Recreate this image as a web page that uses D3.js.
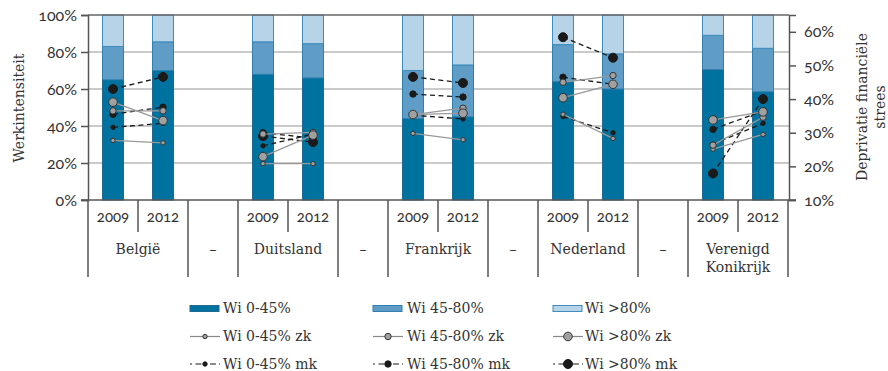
<!DOCTYPE html>
<html>
<head>
<meta charset="utf-8">
<script src="https://cdn.jsdelivr.net/npm/d3@7/dist/d3.min.js"></script>
<style>
  html, body { margin: 0; padding: 0; background: #fff; }
  svg { display: block; }
  .serif { font-family: "DejaVu Serif", serif; fill: #333; }
  .num { font-family: "Lato", "Noto Sans", sans-serif; font-variant-numeric: oldstyle-nums; font-feature-settings: "onum"; fill: #333; }
</style>
</head>
<body>
<svg id="chart" width="888" height="371"></svg>
<script>
// Countries and survey years
const countries = ["België", "Duitsland", "Frankrijk", "Nederland", "Verenigd Konikrijk"];
const years = ["2009", "2012"];

// Share of households per work-intensity class (left axis, %), order: country x year
const wi045  = [65, 70,   68, 66,   44, 45,   64, 60,   70.5, 58.5];
const wi4580 = [18, 15.5, 17.5, 18.5, 26, 28, 20, 19,   18.5, 23.5];
const wi80   = [17, 14.5, 14.5, 15.5, 30, 27, 16, 21,   11, 18];

// Financial stress deprivation (right axis, %), zk = zonder kinderen, mk = met kinderen
const zk045  = [27.7, 27.0, 20.8, 20.8, 29.8, 27.9, 35.5, 28.3, 25.1, 29.5];
const zk4580 = [36.5, 36.5, 29.6, 30.1, 35.4, 37.3, 45.0, 47.0, 26.3, 34.6];
const zk80   = [39.1, 33.6, 22.9, 29.3, 35.4, 35.8, 40.4, 44.4, 33.8, 36.2];
const mk045  = [31.6, 32.8, 26.1, 29.6, 35.2, 34.1, 34.8, 30.0, 26.6, 32.8];
const mk4580 = [35.5, 37.6, 30.0, 28.4, 41.5, 40.6, 46.5, 44.4, 31.0, 36.5];
const mk80   = [43.0, 46.6, 29.0, 27.2, 46.6, 44.8, 58.4, 52.3, 17.9, 40.0];

const leftTicks = [0, 20, 40, 60, 80, 100];
const rightTicks = [10, 20, 30, 40, 50, 60];

const svg = d3.select("#chart");
const M = { left: 88, right: 788, top: 15, bottom: 200 };

// Category slots: two years per country with a spacer slot in between
const slots = [];
countries.forEach((c, i) => {
  years.forEach(y => slots.push({ key: c + "|" + y, country: c, year: y, gap: false }));
  if (i < countries.length - 1) slots.push({ key: "gap" + i, gap: true });
});

const x = d3.scaleBand().domain(slots.map(s => s.key)).range([M.left, M.right])
  .paddingInner(0.58).paddingOuter(0.29);
const step = x.step();
const yL = d3.scaleLinear().domain([0, 100]).range([M.bottom, M.top]);
const yR = d3.scaleLinear().domain([10, 65]).range([M.bottom, M.top]);

const cells = [];
countries.forEach((c, i) => years.forEach((y, j) => cells.push({ country: c, year: y, idx: i * 2 + j })));
const cx = d => x(d.country + "|" + d.year) + x.bandwidth() / 2;

// Gridlines
const g = svg.append("g");
g.selectAll("line.grid").data(leftTicks.filter(t => t > 0 && t < 100)).join("line")
  .attr("x1", M.left).attr("x2", M.right + 1)
  .attr("y1", d => yL(d)).attr("y2", d => yL(d))
  .attr("stroke", "#b8b8b8").attr("stroke-width", 1.5);

// Stacked bars
const barColors = [
  { fill: "#00729f", stroke: "#1f6a92", data: wi045 },
  { fill: "#5f9dc6", stroke: "#2f7fb0", data: wi4580 },
  { fill: "#b7d3e7", stroke: "#3f8cbf", data: wi80 }
];
cells.forEach(d => {
  let base = 0;
  barColors.forEach(s => {
    const v = s.data[d.idx];
    g.append("rect")
      .attr("x", x(d.country + "|" + d.year))
      .attr("width", x.bandwidth())
      .attr("y", yL(base + v))
      .attr("height", yL(base) - yL(base + v))
      .attr("fill", s.fill).attr("stroke", s.stroke).attr("stroke-width", 1);
    base += v;
  });
});

// Axes frame
const axisColor = "#555";
g.append("line").attr("x1", M.left).attr("x2", M.right + 1).attr("y1", M.top).attr("y2", M.top)
  .attr("stroke", "#666").attr("stroke-width", 1.5);

const leftAxis = d3.axisLeft(yL).tickValues(leftTicks).tickSize(7).tickFormat(d => d + "%");
const gl = svg.append("g").attr("transform", `translate(${M.left},0)`).call(leftAxis);
gl.select(".domain").attr("stroke", axisColor).attr("stroke-width", 1.5);
gl.selectAll(".tick line").attr("stroke", axisColor).attr("stroke-width", 1.5);
gl.selectAll(".tick text").attr("class", "num").attr("font-size", 16).attr("x", -11).attr("dy", "0.32em");

const rightAxis = d3.axisRight(yR).tickValues(rightTicks).tickSize(7).tickFormat(d => d + "%");
const gr = svg.append("g").attr("transform", `translate(${M.right + 1},0)`).call(rightAxis);
gr.select(".domain").attr("stroke", axisColor).attr("stroke-width", 1.5);
gr.selectAll(".tick line").attr("stroke", axisColor).attr("stroke-width", 1.5);
gr.selectAll(".tick text").attr("class", "num").attr("font-size", 16).attr("x", 15).attr("dy", "0.32em");
svg.selectAll(".tick text").attr("fill", "#333");

// Bottom axis line
svg.append("line").attr("x1", M.left - 7).attr("x2", M.right + 8).attr("y1", M.bottom).attr("y2", M.bottom)
  .attr("stroke", axisColor).attr("stroke-width", 1.5);

// Hierarchical category axis
const ax = svg.append("g");
const boundaries = [];
slots.forEach((s, i) => { boundaries.push({ x: M.left + i * step, full: s.gap || s.year === "2009" || (i > 0 && slots[i - 1].gap) }); });
boundaries.push({ x: M.right, full: true });
boundaries.forEach(b => {
  ax.append("line").attr("x1", b.x).attr("x2", b.x)
    .attr("y1", M.bottom).attr("y2", b.full ? 277 : 232)
    .attr("stroke", axisColor).attr("stroke-width", 1.5);
});
cells.forEach(d => {
  ax.append("text").attr("class", "num").attr("font-size", 15)
    .attr("x", cx(d)).attr("y", 217).attr("dy", "0.35em").attr("text-anchor", "middle").text(d.year);
});
countries.forEach(c => {
  const mid = x(c + "|2009") + x.bandwidth() / 2 + step / 2;
  const words = c === "Verenigd Konikrijk" ? ["Verenigd", "Konikrijk"] : [c];
  words.forEach((w, k) => ax.append("text").attr("class", "serif").attr("font-size", 14)
    .attr("x", mid).attr("y", 249 + k * 18).attr("dy", "0.35em").attr("text-anchor", "middle").text(w));
});
slots.filter(s => s.gap).forEach(s => {
  ax.append("text").attr("class", "serif").attr("font-size", 14)
    .attr("x", x(s.key) + x.bandwidth() / 2).attr("y", 249).attr("dy", "0.35em").attr("text-anchor", "middle").text("–");
});

// Axis titles
svg.append("text").attr("class", "serif").attr("font-size", 14).attr("text-anchor", "middle")
  .attr("transform", "translate(19,108) rotate(-90)").attr("dy", "0.35em").text("Werkintensiteit");
svg.append("text").attr("class", "serif").attr("font-size", 14).attr("text-anchor", "middle")
  .attr("transform", "translate(862,107) rotate(-90)").attr("dy", "0.35em").text("Deprivatie financiële");
svg.append("text").attr("class", "serif").attr("font-size", 14).attr("text-anchor", "middle")
  .attr("transform", "translate(880,107) rotate(-90)").attr("dy", "0.35em").text("strees");

// Line series (with/without children)
const series = [
  { name: "Wi 0-45% mk",  data: mk045,  r: 2.2, fill: "#1a1a1a", dashed: true },
  { name: "Wi 45-80% mk", data: mk4580, r: 3.2, fill: "#1a1a1a", dashed: true },
  { name: "Wi >80% mk",   data: mk80,   r: 4.5, fill: "#1a1a1a", dashed: true },
  { name: "Wi 0-45% zk",  data: zk045,  r: 2.2, fill: "#a0a0a0", dashed: false },
  { name: "Wi 45-80% zk", data: zk4580, r: 3.2, fill: "#a0a0a0", dashed: false },
  { name: "Wi >80% zk",   data: zk80,   r: 4.3, fill: "#a0a0a0", dashed: false }
];
const ls = svg.append("g");
series.forEach(s => {
  countries.forEach((c, i) => {
    const pts = [0, 1].map(j => ({ country: c, year: years[j], v: s.data[i * 2 + j] }));
    ls.append("path")
      .attr("d", d3.line().x(cx).y(d => yR(d.v))(pts))
      .attr("fill", "none")
      .attr("stroke", s.dashed ? "#1a1a1a" : "#999")
      .attr("stroke-width", 1.3)
      .attr("stroke-dasharray", s.dashed ? "5,3.5" : null);
    pts.forEach(p => ls.append("circle")
      .attr("cx", cx(p)).attr("cy", yR(p.v)).attr("r", s.r)
      .attr("fill", s.fill).attr("stroke", s.dashed ? "#1a1a1a" : "#333").attr("stroke-width", 1));
  });
});

// Legend
const legCols = [{ sx: 190, tx: 223 }, { sx: 373, tx: 407 }, { sx: 553, tx: 585 }];
const legRows = [308.5, 336.5, 364];
const lg = svg.append("g");
const barNames = ["Wi 0-45%", "Wi 45-80%", "Wi >80%"];
barColors.forEach((b, i) => {
  const c = legCols[i];
  lg.append("rect").attr("x", c.sx).attr("y", legRows[0] - 3).attr("width", 29).attr("height", 6)
    .attr("fill", b.fill).attr("stroke", b.stroke).attr("stroke-width", 1);
  lg.append("text").attr("class", "serif").attr("font-size", 14).attr("x", c.tx).attr("y", legRows[0]).attr("dy", "0.35em").text(barNames[i]);
});
[series.slice(3), series.slice(0, 3)].forEach((grp, row) => {
  grp.forEach((s, i) => {
    const c = legCols[i], y = legRows[row + 1];
    lg.append("line").attr("x1", c.sx).attr("x2", c.sx + 30).attr("y1", y).attr("y2", y)
      .attr("stroke", s.dashed ? "#1a1a1a" : "#888").attr("stroke-width", 1.2)
      .attr("stroke-dasharray", s.dashed ? "2,3.5,6,3" : null);
    lg.append("circle").attr("cx", c.sx + 15).attr("cy", y).attr("r", s.r)
      .attr("fill", s.fill).attr("stroke", s.dashed ? "#1a1a1a" : "#333").attr("stroke-width", 1);
    lg.append("text").attr("class", "serif").attr("font-size", 14).attr("x", c.tx).attr("y", y).attr("dy", "0.35em").text(s.name);
  });
});
</script>
</body>
</html>
